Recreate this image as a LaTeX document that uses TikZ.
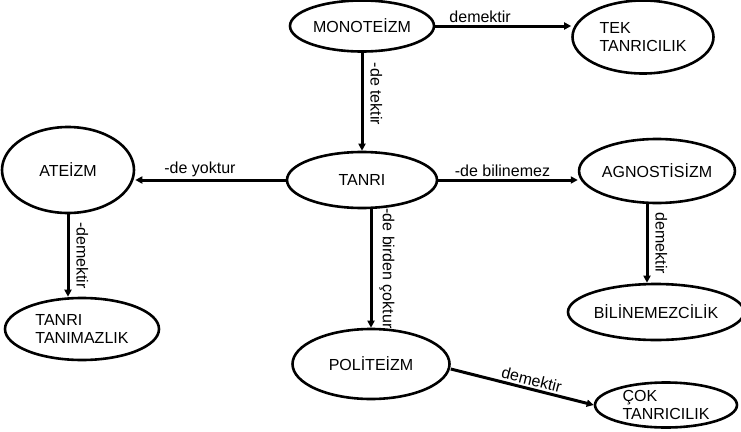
\documentclass[tikz,border=0pt]{standalone}
\usepackage{fontspec}
\setmainfont{Liberation Sans}
\usetikzlibrary{shapes.geometric,arrows.meta,positioning}

\tikzset{
  kavram/.style={ellipse, draw, line width=2.6pt, inner sep=0pt, align=left,
    font=\fontsize{16}{17.5}\selectfont},
  ok/.style={line width=3pt, -{Triangle[length=7pt,width=7pt]}},
  etiket/.style={font=\fontsize{16}{17.5}\selectfont, inner sep=2pt},
  dikey/.style={etiket, rotate=-90, anchor=south, inner sep=7pt}
}

\begin{document}
\begin{tikzpicture}[x=1pt, y=-1pt]
\useasboundingbox (0,0) rectangle (741,431);

% === TOP: Monoteizm ===
\node[kavram, minimum width=144, minimum height=51] (mono) at (362,26) {MONOTE\.IZM};
\node[kavram, minimum width=141, minimum height=73] (tek) at (643,37) {TEK\\TANRICILIK};

% === CENTER ===
\node[kavram, minimum width=150, minimum height=56] (tanri) at (362,180) {TANRI};
\node[kavram, minimum width=132, minimum height=86] (ateizm) at (68,170) {ATE\.IZM};
\node[kavram, minimum width=140, minimum height=64] (agn) at (657,171) {AGNOST\.IS\.IZM};

% === BOTTOM ===
\node[kavram, minimum width=154, minimum height=62] (tanimaz) at (82,329) {TANRI\\TANIMAZLIK};
\node[kavram, minimum width=168, minimum height=56] (bil) at (656,312) {B\.IL\.INEMEZC\.IL\.IK};
\node[kavram, minimum width=157, minimum height=70] (pol) at (371,364) {POL\.ITE\.IZM};
\node[kavram, minimum width=142, minimum height=45] (cok) at (666,405) {\c{C}OK\\TANRICILIK};

% connectors
\draw[ok] (mono.east) -- (tek.west |- mono.east)
  node[etiket, pos=0.33, above] {demektir};
\draw[ok] (mono.south) -- (tanri.north)
  node[dikey, pos=0.42] {-de tektir};
\draw[ok] (tanri.west) -- (tanri.west -| ateizm.east)
  node[etiket, pos=0.57, above] {-de yoktur};
\draw[ok] (tanri.east) -- (tanri.east -| agn.west)
  node[etiket, pos=0.46, above] {-de bilinemez};
\draw[ok] (ateizm.south) -- (ateizm.south |- tanimaz.north)
  node[dikey, midway] {-demektir};
\draw[ok] ([xshift=-10]agn.south) -- ([xshift=-10]agn.south |- bil.north)
  node[dikey, midway] {demektir};
\draw[ok] (pol.north |- tanri.south) -- (pol.north)
  node[dikey, midway] {-de birden \c{c}oktur};
\draw[ok] ([yshift=-5]pol.east) -- (cok.west)
  node[etiket, pos=0.55, above, sloped] {demektir};

\end{tikzpicture}
\end{document}
